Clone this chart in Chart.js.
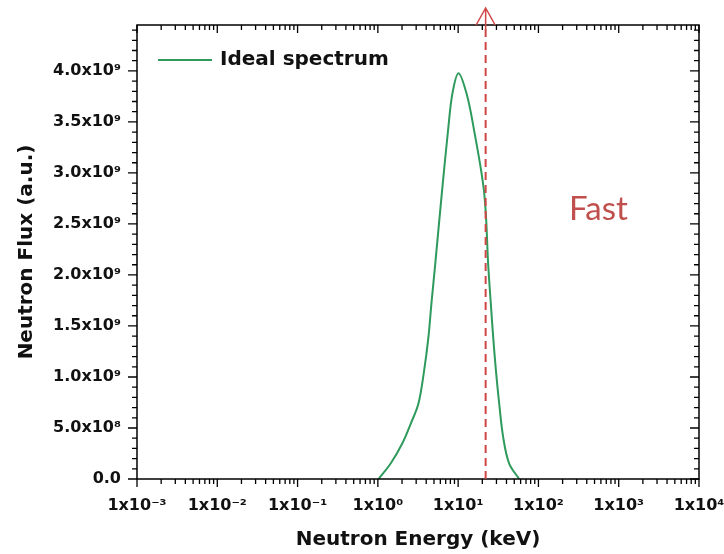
<!DOCTYPE html>
<html>
<head>
<meta charset="utf-8">
<script src="https://cdn.jsdelivr.net/npm/chart.js@4"></script>
<style>
  body { margin: 0; background: #fff; }
</style>
</head>
<body>
<canvas id="myChart" width="724" height="554"></canvas>
<script>
// neutron energy (keV) and flux
const energy = [1.02, 1.45, 2.02, 2.58, 3.21, 3.78, 4.27, 4.65, 5.13, 6.27, 7.57, 8.49, 10.1, 12.7, 15.5, 21.1, 23.8, 25.5, 27.3, 29.5, 32.4, 36.3, 43.1, 57.5];
const flux = [0, 0.154e9, 0.35e9, 0.546e9, 0.742e9, 1.069e9, 1.395e9, 1.722e9, 2.069e9, 2.804e9, 3.454e9, 3.78e9, 3.977e9, 3.78e9, 3.454e9, 2.804e9, 2.069e9, 1.725e9, 1.395e9, 1.069e9, 0.745e9, 0.415e9, 0.154e9, 0];

const xTickValues = [1e-3, 1e-2, 1e-1, 1e0, 1e1, 1e2, 1e3, 1e4];
const xTickLabels = ["1x10⁻³", "1x10⁻²", "1x10⁻¹", "1x10⁰", "1x10¹", "1x10²", "1x10³", "1x10⁴"];
const yTickValues = [0, 0.5e9, 1.0e9, 1.5e9, 2.0e9, 2.5e9, 3.0e9, 3.5e9, 4.0e9];
const yTickLabels = ["0.0", "5.0x10⁸", "1.0x10⁹", "1.5x10⁹", "2.0x10⁹", "2.5x10⁹", "3.0x10⁹", "3.5x10⁹", "4.0x10⁹"];

const fastEdge = 22; // keV, dashed marker
const seriesName = "Ideal spectrum";
const green = "#2e9a5c";
const red = "#d04545";

const points = energy.map((e, i) => ({x: e, y: flux[i]}));

// frame, mirrored ticks, legend, fast marker
const decorations = {
  id: "decorations",
  afterDatasetsDraw(chart) {
    const ctx = chart.ctx;
    const a = chart.chartArea;
    const xs = chart.scales.x;
    const ys = chart.scales.y;
    ctx.save();
    ctx.strokeStyle = "#000";
    ctx.lineWidth = 1.5;
    ctx.strokeRect(a.left, a.top, a.right - a.left, a.bottom - a.top);

    ctx.lineWidth = 1.3;
    ctx.beginPath();
    // x ticks
    for (let d = -3; d <= 4; d++) {
      const base = Math.pow(10, d);
      const px = xs.getPixelForValue(base);
      ctx.moveTo(px, a.bottom); ctx.lineTo(px, a.bottom + 8);
      ctx.moveTo(px, a.top); ctx.lineTo(px, a.top + 8);
      if (d < 4) {
        for (let m = 2; m <= 9; m++) {
          const p = xs.getPixelForValue(m * base);
          ctx.moveTo(p, a.bottom); ctx.lineTo(p, a.bottom + 5);
          ctx.moveTo(p, a.top); ctx.lineTo(p, a.top + 5);
        }
      }
    }
    // y ticks
    for (let k = 0; k <= 44; k++) {
      const v = k * 1e8;
      const py = ys.getPixelForValue(v);
      const len = (k % 5 === 0) ? 9 : 5;
      ctx.moveTo(a.left, py); ctx.lineTo(a.left - len, py);
      ctx.moveTo(a.right, py); ctx.lineTo(a.right - len, py);
    }
    ctx.stroke();

    // legend
    ctx.strokeStyle = green;
    ctx.lineWidth = 2;
    ctx.beginPath();
    ctx.moveTo(a.left + 21, a.top + 35);
    ctx.lineTo(a.left + 75, a.top + 35);
    ctx.stroke();
    ctx.fillStyle = "#111";
    ctx.font = "bold 20px 'DejaVu Sans'";
    ctx.textBaseline = "middle";
    ctx.fillText(seriesName, a.left + 83, a.top + 35);

    // fast boundary
    const fx = xs.getPixelForValue(fastEdge);
    ctx.strokeStyle = red;
    ctx.lineWidth = 2;
    ctx.setLineDash([8, 5]);
    ctx.beginPath();
    ctx.moveTo(fx, a.top + 4);
    ctx.lineTo(fx, a.bottom + 4);
    ctx.stroke();
    ctx.setLineDash([]);
    ctx.lineWidth = 1.5;
    ctx.beginPath();
    ctx.moveTo(fx - 9.5, a.top);
    ctx.lineTo(fx, a.top - 17);
    ctx.lineTo(fx + 9.5, a.top);
    ctx.moveTo(fx, a.top - 17);
    ctx.lineTo(fx, a.top + 4);
    ctx.stroke();

    ctx.fillStyle = "#c0504d";
    ctx.font = "33px Lato";
    ctx.textBaseline = "alphabetic";
    ctx.fillText("Fast", a.left + 432, a.top + 195);
    ctx.restore();
  }
};

const ctx = document.getElementById("myChart");

new Chart(ctx, {
  type: "line",
  data: {
    datasets: [
      {
        label: seriesName,
        data: points,
        borderColor: green,
        borderWidth: 2,
        pointRadius: 0,
        fill: false,
        tension: 0.35,
      }
    ],
  },
  options: {
    responsive: false,
    animation: false,
    layout: { padding: { left: 0, right: 25, top: 25, bottom: 0 } },
    plugins: { legend: { display: false }, tooltip: { enabled: false } },
    scales: {
      x: {
        type: "logarithmic",
        min: 1e-3,
        max: 1e4,
        grid: { display: false, drawTicks: false },
        border: { display: false },
        afterBuildTicks: (scale) => { scale.ticks = xTickValues.map(v => ({value: v})); },
        afterFit: (scale) => { scale.height = 75; scale.paddingLeft = 0; scale.paddingRight = 0; },
        ticks: {
          autoSkip: false,
          maxRotation: 0,
          padding: 17,
          color: "#111",
          font: { family: "DejaVu Sans", size: 16, weight: "bold" },
          callback: (v, i) => xTickLabels[i],
        },
        title: {
          display: true,
          text: "Neutron Energy (keV)",
          color: "#111",
          padding: { top: 0, bottom: 2 },
          font: { family: "DejaVu Sans", size: 20, weight: "bold" },
        },
      },
      y: {
        min: 0,
        max: 4.45e9,
        grid: { display: false, drawTicks: false },
        border: { display: false },
        afterBuildTicks: (scale) => { scale.ticks = yTickValues.map(v => ({value: v})); },
        afterFit: (scale) => { scale.width = 137; scale.paddingTop = 0; scale.paddingBottom = 0; },
        ticks: {
          padding: 16,
          color: "#111",
          font: { family: "DejaVu Sans", size: 16, weight: "bold" },
          callback: (v, i) => yTickLabels[i],
        },
        title: {
          display: true,
          text: "Neutron Flux (a.u.)",
          color: "#111",
          padding: { top: 15, bottom: 0 },
          font: { family: "DejaVu Sans", size: 20, weight: "bold" },
        },
      },
    },
  },
  plugins: [decorations],
});
</script>
</body>
</html>
